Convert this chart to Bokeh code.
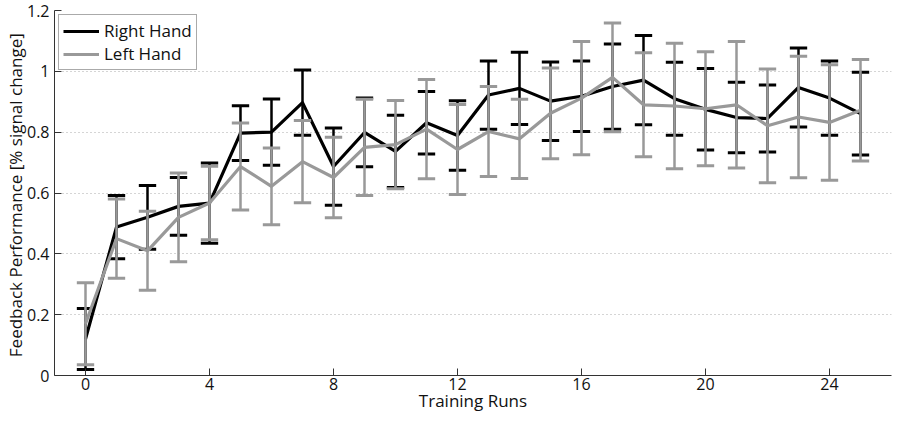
import numpy as np
from bokeh.plotting import figure
from bokeh.models import ColumnDataSource, FixedTicker, CustomJSTickFormatter, Range1d, Legend, LegendItem
from bokeh.embed import file_html
from bokeh.resources import INLINE

runs = list(range(26))
right_mean = [0.12, 0.488, 0.52, 0.556, 0.567, 0.797, 0.80, 0.897, 0.687, 0.799, 0.737, 0.831, 0.789,
              0.922, 0.944, 0.902, 0.918, 0.95, 0.971, 0.91, 0.875, 0.848, 0.845, 0.947, 0.912, 0.861]
right_err = [0.10, 0.104, 0.105, 0.095, 0.132, 0.09, 0.109, 0.107, 0.127, 0.113, 0.119, 0.103, 0.114,
             0.112, 0.119, 0.129, 0.116, 0.14, 0.147, 0.12, 0.134, 0.116, 0.11, 0.13, 0.122, 0.136]
left_mean = [0.17, 0.45, 0.41, 0.52, 0.567, 0.687, 0.622, 0.703, 0.651, 0.75, 0.759, 0.81, 0.743,
             0.802, 0.778, 0.862, 0.912, 0.98, 0.89, 0.886, 0.877, 0.89, 0.821, 0.85, 0.832, 0.872]
left_err = [0.135, 0.13, 0.13, 0.146, 0.121, 0.143, 0.126, 0.135, 0.132, 0.158, 0.145, 0.163, 0.148,
            0.148, 0.13, 0.149, 0.186, 0.179, 0.171, 0.206, 0.187, 0.208, 0.187, 0.2, 0.19, 0.167]
series_names = ["Right Hand", "Left Hand"]
x_ticks = [0, 4, 8, 12, 16, 20, 24]
y_ticks = [0, 0.2, 0.4, 0.6, 0.8, 1.0, 1.2]

FONT = "Open Sans"
BLACK = "#000000"
GRAY = "#999999"
CAP = 0.28

p = figure(width=893, height=414, output_backend="svg", toolbar_location=None,
           x_range=Range1d(-1, 26), y_range=Range1d(0, 1.2),
           min_border_left=44, min_border_right=2, min_border_top=10, min_border_bottom=30)
p.outline_line_color = None
p.background_fill_color = "white"

def add_series(mean, err, color):
    x = np.array(runs, dtype=float)
    m = np.array(mean)
    e = np.array(err)
    src = ColumnDataSource(dict(x=x, lo=m - e, hi=m + e, x0=x - CAP, x1=x + CAP))
    p.segment(x0="x", y0="lo", x1="x", y1="hi", source=src, line_color=color, line_width=2.5)
    p.segment(x0="x0", y0="hi", x1="x1", y1="hi", source=src, line_color=color, line_width=3)
    p.segment(x0="x0", y0="lo", x1="x1", y1="lo", source=src, line_color=color, line_width=3)
    return p.line(x, m, line_color=color, line_width=3.2, line_join="round")

r1 = add_series(right_mean, right_err, BLACK)
r2 = add_series(left_mean, left_err, GRAY)

legend = Legend(items=[LegendItem(label=series_names[0], renderers=[r1]),
                       LegendItem(label=series_names[1], renderers=[r2])],
                location="top_left")
legend.margin = 4
legend.padding = 4
legend.spacing = 0
legend.glyph_width = 36
legend.glyph_height = 18
legend.label_height = 18
legend.label_standoff = 5
legend.label_text_font = FONT
legend.label_text_font_size = "17px"
legend.label_text_color = "#111111"
legend.border_line_color = "#555555"
legend.border_line_width = 1
legend.background_fill_alpha = 1
p.add_layout(legend)

for ax in (p.xaxis[0], p.yaxis[0]):
    ax.axis_line_color = "#333333"
    ax.axis_line_width = 1
    ax.major_tick_line_color = "#333333"
    ax.major_tick_in = 7
    ax.major_tick_out = 0
    ax.minor_tick_line_color = None
    ax.major_label_text_font = FONT
    ax.major_label_text_font_size = "16px"
    ax.major_label_text_color = "#111111"
    ax.axis_label_text_font = FONT
    ax.axis_label_text_font_size = "17px"
    ax.axis_label_text_font_style = "normal"
    ax.axis_label_text_color = "#111111"

p.xaxis.ticker = FixedTicker(ticks=x_ticks)
p.yaxis.ticker = FixedTicker(ticks=y_ticks)
p.yaxis.formatter = CustomJSTickFormatter(code="return String(Math.round(tick*10)/10);")
p.xaxis.axis_label = "Training Runs"
p.yaxis.axis_label = "Feedback Performance  [% signal change]"
p.xaxis.major_label_standoff = 2
p.yaxis.major_label_standoff = 5
p.xaxis.axis_label_standoff = -4
p.yaxis.axis_label_standoff = -3

p.xgrid.grid_line_color = None
p.ygrid.grid_line_color = "#aaaaaa"
p.ygrid.grid_line_dash = "1 3"
p.ygrid.grid_line_width = 1

open("out.html", "w").write(file_html(p, INLINE))
